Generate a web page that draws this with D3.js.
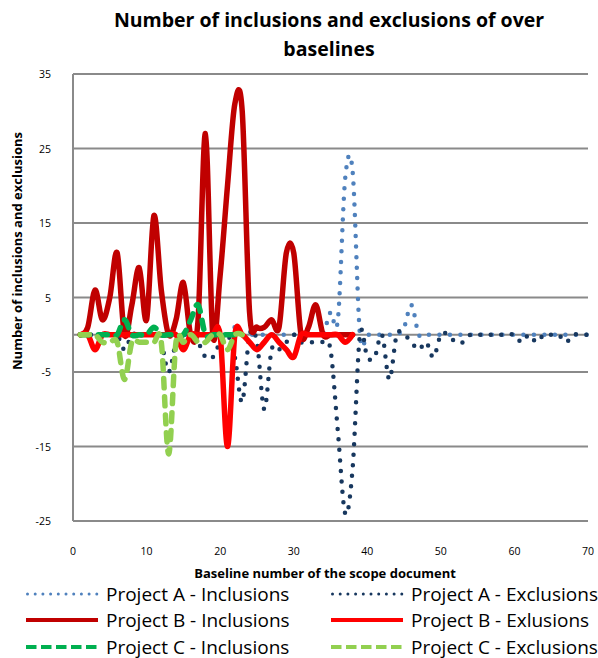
<script src="https://d3js.org/d3.v7.min.js"></script>
<style>
    body { background: #fff; margin: 0; font-family: "Open Sans", sans-serif; }
    svg { display: block; }
</style>

<svg width="598" height="658"></svg>

<script>
    // values per baseline number, starting at baseline 1
    const projectAInclusions = [
        0, 0, 0, 0, 0, 0, 0, 0, 0, 0,
        0, 0, 0, 0, 0, 0, 0, 0, 0, 0,
        0, 1, 0, 0, 0, 0, 0, 0, 0, 0,
        0, 0, 0, 0, 3, 2, 21, 22, 0, 0,
        0, 0, 0, 0, 1, 4, 0, 0, 0, 0,
        0, 0, 0, 0, 0, 0, 0, 0, 0, 0,
        0, 0, 0, 0, 0, 0, 0, 0, 0, 0];
    const projectAExclusions = [
        0, 0, 0, 0, 0, 0, -2, 0, 0, 0,
        0, -1, -5, -1, 0, 0, -1, -3, -3, -1,
        0, -3, -9, 0, -1, -10, -2, -2, -1, 0,
        -1, -1, -1, -1, -2, -13, -24, -18, 0, -3,
        -3, 0, -6, 0, 0, -1, -2, -1, -3, 0,
        0, -1, -1, 0, 0, 0, 0, 0, 0, 0,
        -1, 0, -1, 0, 0, 0, -1, 0, 0, 0];
    const projectBInclusions = [
        0, 1, 6, 2, 5, 11, 0, 4, 9, 2,
        16, 6, 0, 2, 7, 0, 2, 27, 0, 8,
        20, 31, 30, 3, 1, 1, 2, 1, 11, 11,
        0, 1, 4, 0, 0, 0, 0, 0];
    const projectBExclusions = [
        0, 0, -2, 0, 0, 0, 0, 0, 0, 0,
        0, 0, 0, 0, -2, 0, 0, 0, 0, 0,
        -15, 0, 0, -1, -2, -1, 0, -1, -2, -3,
        0, 0, 0, 0, 0, 0, -1, 0];
    const projectCInclusions = [
        0, 0, 0, 0, 0, 0, 2, 0, 0, 0,
        1, 0, 0, 0, 0, 2, 4, 0, 0, 0,
        0, 0, 0];
    const projectCExclusions = [
        0, 0, 0, -1, -1, -1, -6, -1, -1, -1,
        -1, -1, -16, -1, -1, 0, -1, -1, 0, 0,
        -2, 0, 0];

    const xTicks = [0, 10, 20, 30, 40, 50, 60, 70];
    const yTicks = [-25, -15, -5, 5, 15, 25, 35];
    const seriesNames = ["Project A - Inclusions", "Project A - Exclusions",
        "Project B - Inclusions", "Project B - Exlusions",
        "Project C - Inclusions", "Project C - Exclusions"];

    const series = [
        { name: seriesNames[0], values: projectAInclusions, color: "#4f81bd", width: 4.5, dash: "0,10.5", cap: "round", lw: 3, ldash: "0,7.7", lcap: "round" },
        { name: seriesNames[1], values: projectAExclusions, color: "#17375e", width: 4.5, dash: "0,10.5", cap: "round", lw: 3, ldash: "0,7.7", lcap: "round" },
        { name: seriesNames[2], values: projectBInclusions, color: "#c00000", width: 5.5, dash: null, cap: "round", lw: 4, ldash: null, lcap: "butt" },
        { name: seriesNames[3], values: projectBExclusions, color: "#ff0000", width: 5.5, dash: null, cap: "round", lw: 4, ldash: null, lcap: "butt" },
        { name: seriesNames[4], values: projectCInclusions, color: "#00b050", width: 5.5, dash: "9,9", cap: "round", lw: 4, ldash: "10.5,4.5", lcap: "butt" },
        { name: seriesNames[5], values: projectCExclusions, color: "#92d050", width: 5.5, dash: "9,9", cap: "round", lw: 4, ldash: "10.5,4.5", lcap: "butt" }
    ];

    const svg = d3.select("svg");
    const x = d3.scaleLinear().domain([0, 70]).range([73, 588]);
    const y = d3.scaleLinear().domain([-25, 35]).range([521, 74]);
    const grid = "#8a8a8a";

    // title
    svg.append("text").attr("x", 329).attr("y", 27).attr("text-anchor", "middle")
        .attr("font-size", 19.5).attr("font-weight", "bold").attr("fill", "#000")
        .text("Number of inclusions and exclusions of over");
    svg.append("text").attr("x", 329).attr("y", 56).attr("text-anchor", "middle")
        .attr("font-size", 19.5).attr("font-weight", "bold").attr("fill", "#000")
        .text("baselines");

    // gridlines
    svg.append("g").selectAll("line")
        .data(yTicks)
        .enter().append("line")
        .attr("x1", x(0)).attr("x2", x(70))
        .attr("y1", d => y(d)).attr("y2", d => y(d))
        .attr("stroke", grid).attr("stroke-width", 2);

    // axes lines
    svg.append("line").attr("x1", x(0)).attr("x2", x(70)).attr("y1", y(0)).attr("y2", y(0))
        .attr("stroke", grid).attr("stroke-width", 2);
    svg.append("line").attr("x1", x(0)).attr("x2", x(0)).attr("y1", y(35)).attr("y2", y(-25))
        .attr("stroke", grid).attr("stroke-width", 2);

    // tick labels
    svg.append("g").selectAll("text")
        .data(yTicks)
        .enter().append("text")
        .attr("x", 51).attr("y", d => y(d) + 4)
        .attr("text-anchor", "end").attr("font-size", 10.5).attr("fill", "#000")
        .text(d => d);
    svg.append("g").selectAll("text")
        .data(xTicks)
        .enter().append("text")
        .attr("x", d => x(d)).attr("y", 555)
        .attr("text-anchor", "middle").attr("font-size", 10.5).attr("fill", "#000")
        .text(d => d);

    // axis titles
    svg.append("text").attr("x", 325).attr("y", 578).attr("text-anchor", "middle")
        .attr("font-size", 13).attr("font-weight", "bold").attr("fill", "#000")
        .text("Baseline number of the scope document");
    svg.append("text").attr("transform", "translate(22,251) rotate(-90)").attr("text-anchor", "middle")
        .attr("font-size", 13).attr("font-weight", "bold").attr("fill", "#000")
        .text("Number of inclusions and exclusions");

    // series (Excel smoothed lines)
    const line = d3.line()
        .x((d, i) => x(i + 1))
        .y(d => y(d))
        .curve(d3.curveCardinal.tension(0));

    svg.append("g").selectAll("path")
        .data(series)
        .enter().append("path")
        .attr("d", d => line(d.values))
        .attr("fill", "none")
        .attr("stroke", d => d.color)
        .attr("stroke-width", d => d.width)
        .attr("stroke-dasharray", d => d.dash)
        .attr("stroke-linecap", d => d.cap)
        .attr("stroke-linejoin", "round");

    // legend, two columns
    const legend = svg.append("g").selectAll("g")
        .data(series)
        .enter().append("g")
        .attr("transform", (d, i) => `translate(${i % 2 ? 331 : 26},${[594, 620, 647][Math.floor(i / 2)]})`);
    legend.append("line")
        .attr("x1", d => d.ldash && d.lcap == "round" ? 1.5 : 0).attr("x2", 72)
        .attr("stroke", d => d.color)
        .attr("stroke-width", d => d.lw)
        .attr("stroke-dasharray", d => d.ldash)
        .attr("stroke-linecap", d => d.lcap);
    legend.append("text")
        .attr("x", 80).attr("y", 6.5)
        .attr("font-size", 19).attr("fill", "#000")
        .text(d => d.name);
</script>
